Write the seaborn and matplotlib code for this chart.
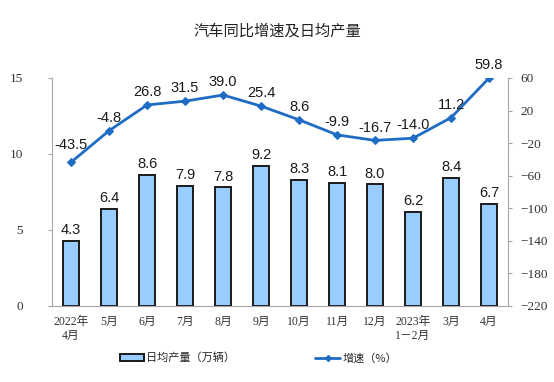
import numpy as np
import pandas as pd
import matplotlib.pyplot as plt
import seaborn as sns
from matplotlib.lines import Line2D
from matplotlib.patches import Patch

# ============================
# Data
# ============================

months = ["2022年\n4月", "5月", "6月", "7月", "8月", "9月", "10月",
          "11月", "12月", "2023年\n1－2月", "3月", "4月"]
daily_output = [4.3, 6.4, 8.6, 7.9, 7.8, 9.2, 8.3, 8.1, 8.0, 6.2, 8.4, 6.7]
growth = [-43.5, -4.8, 26.8, 31.5, 39.0, 25.4, 8.6, -9.9, -16.7, -14.0, 11.2, 59.8]

df = pd.DataFrame({
    "month": months,
    "pos": np.arange(len(months)),
    "output": daily_output,
    "growth": growth,
})

# ============================
# Style
# ============================

sns.set_style("white")
plt.rcParams['font.family'] = ['Noto Sans CJK SC', 'DejaVu Sans']

BAR_COLOR = "#99ccff"
LINE_COLOR = "#1f6cc4"
SPINE_COLOR = "#a6a6a6"
NUM_FONT = ['Liberation Serif', 'Noto Sans CJK SC']

fig = plt.figure(figsize=(5.54, 3.82), dpi=100)
ax = fig.add_axes([0.094, 0.199, 0.823, 0.597])

# ============================
# Bars
# ============================

sns.barplot(data=df, x="month", y="output", ax=ax, color=BAR_COLOR,
            edgecolor="#1a1a1a", linewidth=1.4, width=0.4, saturation=1)

for i, v in enumerate(daily_output):
    ax.text(i, v + 0.25, f"{v:.1f}", ha="center", va="bottom",
            fontsize=10.5, family="Liberation Sans", color="#1a1a1a")

ax.set_xlim(-0.5, len(months) - 0.5)
ax.set_ylim(0, 15)
ax.set_yticks([0, 5, 10, 15])
ax.set_xlabel("")
ax.set_ylabel("")
ax.set_xticks(np.arange(len(months)))
ax.set_xticklabels(months, fontsize=8.5, family=NUM_FONT, color="#333333",
                   linespacing=1.3)
ax.set_xticks(np.arange(len(months) + 1) - 0.5, minor=True)
for lab in ax.get_yticklabels():
    lab.set_family(NUM_FONT)
    lab.set_fontsize(9.5)
    lab.set_color("#333333")
ax.tick_params(axis="x", which="major", length=0, pad=7)
ax.tick_params(axis="x", which="minor", length=3, color=SPINE_COLOR, direction="in")
ax.tick_params(axis="y", length=3, color=SPINE_COLOR, pad=18)

for side in ["top", "right"]:
    ax.spines[side].set_visible(False)
for side in ["left", "bottom"]:
    ax.spines[side].set_color(SPINE_COLOR)
    ax.spines[side].set_linewidth(0.8)

# ============================
# Growth line
# ============================

ax2 = ax.twinx()
sns.lineplot(data=df, x="pos", y="growth", ax=ax2, color=LINE_COLOR,
             linewidth=2, marker="D", markersize=4, markeredgecolor=LINE_COLOR)

for i, v in enumerate(growth):
    # first label sits a bit higher so it clears the rising line
    dy = 7 if i > 0 else 12
    ax2.text(i, v + dy, f"{v:.1f}", ha="center", va="bottom",
             fontsize=10.5, family="Liberation Sans", color="#1a1a1a")

ax2.set_ylim(-220, 60)
ax2.set_yticks(np.arange(-220, 61, 40))
ax2.set_xlabel("")
ax2.set_ylabel("")
for lab in ax2.get_yticklabels():
    lab.set_family(NUM_FONT)
    lab.set_fontsize(9.5)
    lab.set_color("#333333")
ax2.tick_params(axis="y", length=3, color=SPINE_COLOR, pad=6)
for side in ["top", "left", "bottom"]:
    ax2.spines[side].set_visible(False)
ax2.spines["right"].set_color(SPINE_COLOR)
ax2.spines["right"].set_linewidth(0.8)
ax2.set_xlim(-0.5, len(months) - 0.5)

# ============================
# Title & Legend
# ============================

fig.text(0.5, 0.918, "汽车同比增速及日均产量", ha="center", va="center",
         fontsize=11, color="#222222")

handles = [
    Patch(facecolor=BAR_COLOR, edgecolor="#1a1a1a", linewidth=1.4),
    Line2D([0], [0], color=LINE_COLOR, linewidth=2, marker="D", markersize=3),
]
fig.legend(handles, ["日均产量（万辆）", "增速（%）"], loc="center",
           bbox_to_anchor=(0.466, 0.063), ncol=2, frameon=False, fontsize=8,
           columnspacing=7.2, handlelength=2.2, handleheight=0.6,
           handletextpad=0.2)

fig.savefig("out.png", dpi=100)
